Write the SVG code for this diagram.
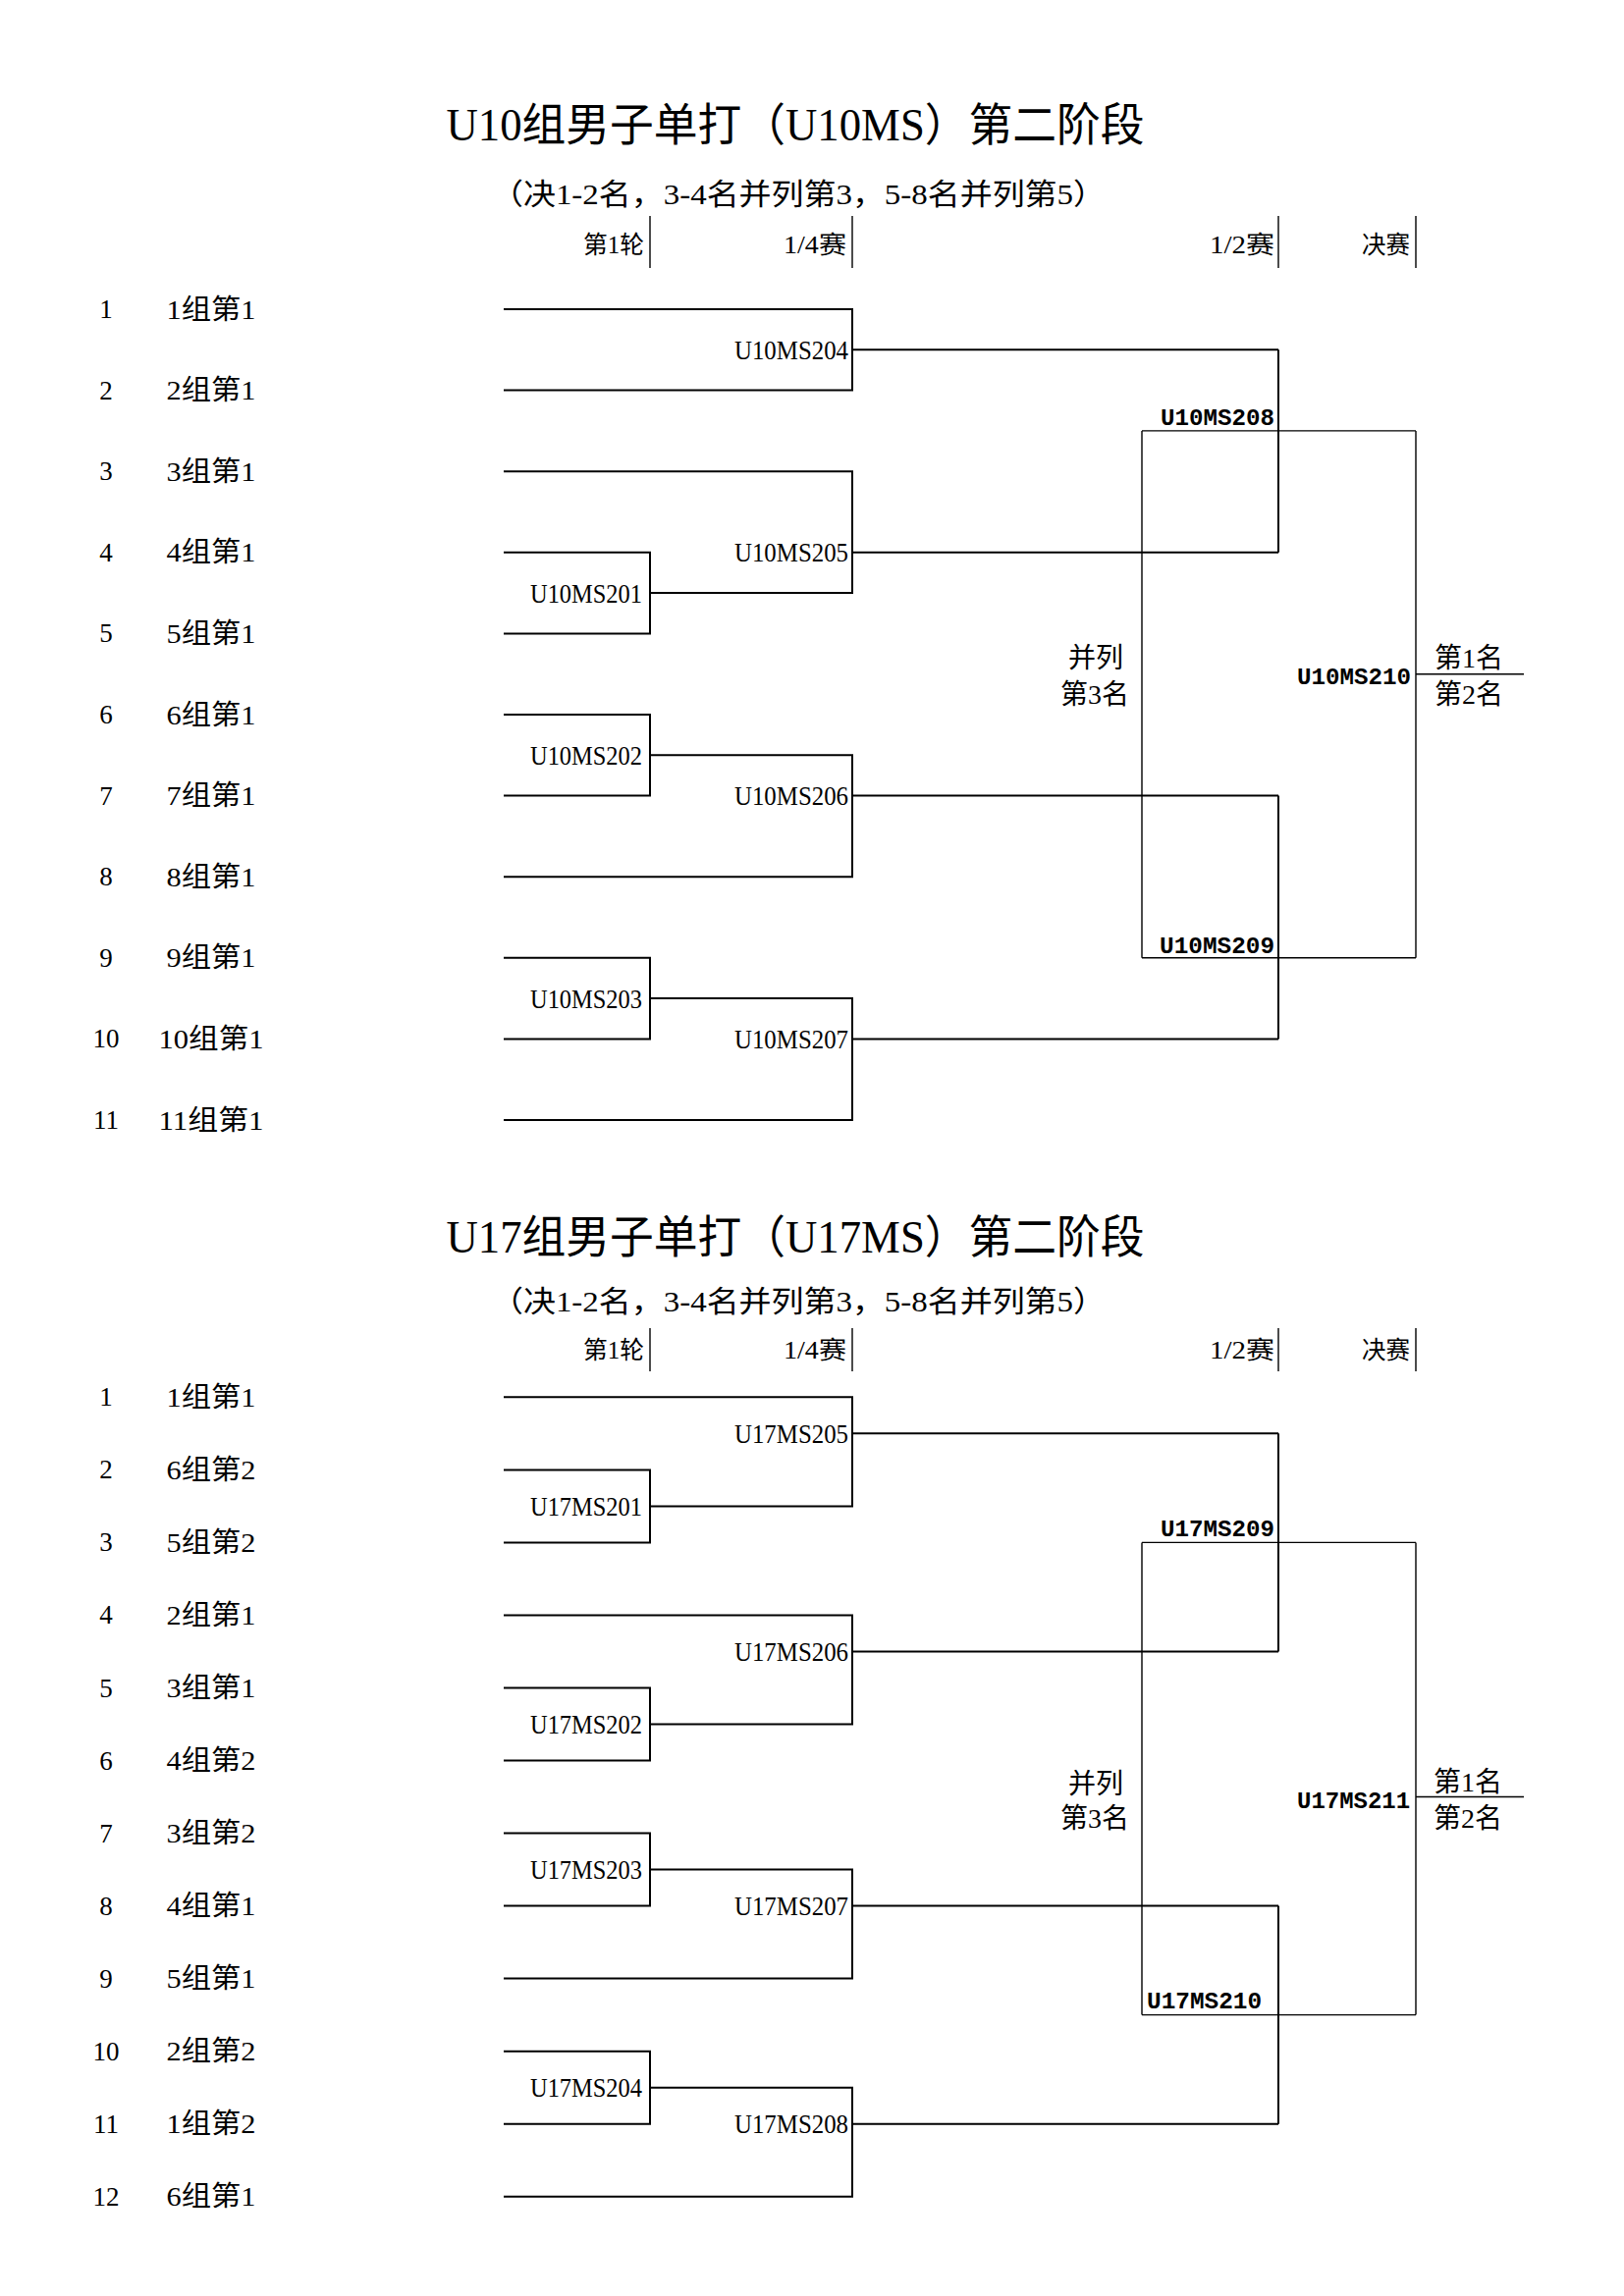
<svg xmlns="http://www.w3.org/2000/svg" width="1654" height="2339" viewBox="0 0 1654 2339">
<style>
.t{font-family:"Liberation Serif","Noto Sans CJK SC",serif;fill:#000;dominant-baseline:central}
.m{font-family:"Liberation Mono","Noto Sans CJK SC",monospace;fill:#000;font-size:24px;font-weight:bold}
.title{font-size:46px;text-anchor:middle}
.sub{font-size:30px;text-anchor:middle}
.hd{font-size:25px;text-anchor:end}
.num{font-size:27px;text-anchor:middle}
.lab{font-size:28px;text-anchor:middle}
.ml{font-size:28px;text-anchor:end}
.rk{font-size:28px;text-anchor:middle}
.k{fill:none;stroke:#000;stroke-width:2}
.f{fill:none;stroke:#000;stroke-width:1.4}
</style>
<rect width="1654" height="2339" fill="#fff"/>

<!-- ================= Section 1: U10MS ================= -->
<g id="s1-title">
<text class="t title" x="810" y="127" textLength="711" lengthAdjust="spacingAndGlyphs">U10组男子单打（U10MS）第二阶段</text>
<text class="t sub" x="813" y="197" textLength="626" lengthAdjust="spacingAndGlyphs">（决1-2名，3-4名并列第3，5-8名并列第5）</text>
</g>
<g id="s1-headers">
<text class="t hd" x="656" y="249" textLength="62" lengthAdjust="spacingAndGlyphs">第1轮</text>
<text class="t hd" x="862" y="249" textLength="64" lengthAdjust="spacingAndGlyphs">1/4赛</text>
<text class="t hd" x="1298" y="249" textLength="66" lengthAdjust="spacingAndGlyphs">1/2赛</text>
<text class="t hd" x="1436" y="249" textLength="49" lengthAdjust="spacingAndGlyphs">决赛</text>
<path class="f" d="M662,220V273M868,220V273M1302,220V273M1442,220V273"/>
</g>

<g id="s1-entries">
<g id="s1-e1"><text class="t num" x="108" y="315">1</text><text class="t lab" x="215" y="315" textLength="91" lengthAdjust="spacingAndGlyphs">1组第1</text></g>
<g id="s1-e2"><text class="t num" x="108" y="397.6">2</text><text class="t lab" x="215" y="397.6" textLength="91" lengthAdjust="spacingAndGlyphs">2组第1</text></g>
<g id="s1-e3"><text class="t num" x="108" y="480.2">3</text><text class="t lab" x="215" y="480.2" textLength="91" lengthAdjust="spacingAndGlyphs">3组第1</text></g>
<g id="s1-e4"><text class="t num" x="108" y="562.8">4</text><text class="t lab" x="215" y="562.8" textLength="91" lengthAdjust="spacingAndGlyphs">4组第1</text></g>
<g id="s1-e5"><text class="t num" x="108" y="645.4">5</text><text class="t lab" x="215" y="645.4" textLength="91" lengthAdjust="spacingAndGlyphs">5组第1</text></g>
<g id="s1-e6"><text class="t num" x="108" y="728">6</text><text class="t lab" x="215" y="728" textLength="91" lengthAdjust="spacingAndGlyphs">6组第1</text></g>
<g id="s1-e7"><text class="t num" x="108" y="810.6">7</text><text class="t lab" x="215" y="810.6" textLength="91" lengthAdjust="spacingAndGlyphs">7组第1</text></g>
<g id="s1-e8"><text class="t num" x="108" y="893.2">8</text><text class="t lab" x="215" y="893.2" textLength="91" lengthAdjust="spacingAndGlyphs">8组第1</text></g>
<g id="s1-e9"><text class="t num" x="108" y="975.8">9</text><text class="t lab" x="215" y="975.8" textLength="91" lengthAdjust="spacingAndGlyphs">9组第1</text></g>
<g id="s1-e10"><text class="t num" x="108" y="1058.4">10</text><text class="t lab" x="215" y="1058.4" textLength="107" lengthAdjust="spacingAndGlyphs">10组第1</text></g>
<g id="s1-e11"><text class="t num" x="108" y="1141">11</text><text class="t lab" x="215" y="1141" textLength="107" lengthAdjust="spacingAndGlyphs">11组第1</text></g>
</g>

<g id="s1-matches">
<g id="U10MS201"><text class="t ml" x="654" y="604.1" textLength="114" lengthAdjust="spacingAndGlyphs">U10MS201</text></g>
<g id="U10MS202"><text class="t ml" x="654" y="769.3" textLength="114" lengthAdjust="spacingAndGlyphs">U10MS202</text></g>
<g id="U10MS203"><text class="t ml" x="654" y="1017.1" textLength="114" lengthAdjust="spacingAndGlyphs">U10MS203</text></g>
<g id="U10MS204"><text class="t ml" x="864" y="356.3" textLength="116" lengthAdjust="spacingAndGlyphs">U10MS204</text></g>
<g id="U10MS205"><text class="t ml" x="864" y="562.8" textLength="116" lengthAdjust="spacingAndGlyphs">U10MS205</text></g>
<g id="U10MS206"><text class="t ml" x="864" y="810.6" textLength="116" lengthAdjust="spacingAndGlyphs">U10MS206</text></g>
<g id="U10MS207"><text class="t ml" x="864" y="1058.4" textLength="116" lengthAdjust="spacingAndGlyphs">U10MS207</text></g>
<g id="U10MS208"><text class="m" x="1182" y="433" textLength="116" lengthAdjust="spacingAndGlyphs">U10MS208</text></g>
<g id="U10MS209"><text class="m" x="1181" y="971" textLength="117" lengthAdjust="spacingAndGlyphs">U10MS209</text></g>
<g id="U10MS210"><text class="m" x="1321" y="697" textLength="116" lengthAdjust="spacingAndGlyphs">U10MS210</text></g>
<g id="s1-third"><text class="t rk" x="1116" y="670">并列</text><text class="t rk" x="1115" y="707">第3名</text></g>
<g id="s1-final"><text class="t rk" x="1496" y="670">第1名</text><text class="t rk" x="1496" y="707">第2名</text></g>
</g>

<g id="s1-connectors">
<path class="k" d="M513,315H868V397.6H513M868,356.3H1302"/>
<path class="k" d="M513,480.2H868V604.1H662M868,562.8H1302"/>
<path class="k" d="M513,562.8H662V645.4H513"/>
<path class="k" d="M513,728H662V810.6H513M662,769.3H868V893.2H513M868,810.6H1302"/>
<path class="k" d="M513,975.8H662V1058.4H513M662,1017.1H868V1141H513M868,1058.4H1302"/>
<path class="k" d="M1302,356.3V562.8M1302,810.6V1058.4"/>
<path class="f" d="M1163,438.9H1442M1163,975.8H1442M1163,438.9V975.8M1442,438.9V975.8M1442,686.7H1552"/>
</g>

<!-- ================= Section 2: U17MS ================= -->
<g id="s2-title">
<text class="t title" x="810" y="1260" textLength="711" lengthAdjust="spacingAndGlyphs">U17组男子单打（U17MS）第二阶段</text>
<text class="t sub" x="813" y="1325" textLength="626" lengthAdjust="spacingAndGlyphs">（决1-2名，3-4名并列第3，5-8名并列第5）</text>
</g>
<g id="s2-headers">
<text class="t hd" x="656" y="1375" textLength="62" lengthAdjust="spacingAndGlyphs">第1轮</text>
<text class="t hd" x="862" y="1375" textLength="64" lengthAdjust="spacingAndGlyphs">1/4赛</text>
<text class="t hd" x="1298" y="1375" textLength="66" lengthAdjust="spacingAndGlyphs">1/2赛</text>
<text class="t hd" x="1436" y="1375" textLength="49" lengthAdjust="spacingAndGlyphs">决赛</text>
<path class="f" d="M662,1353V1397M868,1353V1397M1302,1353V1397M1442,1353V1397"/>
</g>

<g id="s2-entries">
<g id="s2-e1"><text class="t num" x="108" y="1423.3">1</text><text class="t lab" x="215" y="1423.3" textLength="91" lengthAdjust="spacingAndGlyphs">1组第1</text></g>
<g id="s2-e2"><text class="t num" x="108" y="1497.4">2</text><text class="t lab" x="215" y="1497.4" textLength="91" lengthAdjust="spacingAndGlyphs">6组第2</text></g>
<g id="s2-e3"><text class="t num" x="108" y="1571.4">3</text><text class="t lab" x="215" y="1571.4" textLength="91" lengthAdjust="spacingAndGlyphs">5组第2</text></g>
<g id="s2-e4"><text class="t num" x="108" y="1645.4">4</text><text class="t lab" x="215" y="1645.4" textLength="91" lengthAdjust="spacingAndGlyphs">2组第1</text></g>
<g id="s2-e5"><text class="t num" x="108" y="1719.5">5</text><text class="t lab" x="215" y="1719.5" textLength="91" lengthAdjust="spacingAndGlyphs">3组第1</text></g>
<g id="s2-e6"><text class="t num" x="108" y="1793.5">6</text><text class="t lab" x="215" y="1793.5" textLength="91" lengthAdjust="spacingAndGlyphs">4组第2</text></g>
<g id="s2-e7"><text class="t num" x="108" y="1867.6">7</text><text class="t lab" x="215" y="1867.6" textLength="91" lengthAdjust="spacingAndGlyphs">3组第2</text></g>
<g id="s2-e8"><text class="t num" x="108" y="1941.6">8</text><text class="t lab" x="215" y="1941.6" textLength="91" lengthAdjust="spacingAndGlyphs">4组第1</text></g>
<g id="s2-e9"><text class="t num" x="108" y="2015.6">9</text><text class="t lab" x="215" y="2015.6" textLength="91" lengthAdjust="spacingAndGlyphs">5组第1</text></g>
<g id="s2-e10"><text class="t num" x="108" y="2089.7">10</text><text class="t lab" x="215" y="2089.7" textLength="91" lengthAdjust="spacingAndGlyphs">2组第2</text></g>
<g id="s2-e11"><text class="t num" x="108" y="2163.7">11</text><text class="t lab" x="215" y="2163.7" textLength="91" lengthAdjust="spacingAndGlyphs">1组第2</text></g>
<g id="s2-e12"><text class="t num" x="108" y="2237.8">12</text><text class="t lab" x="215" y="2237.8" textLength="91" lengthAdjust="spacingAndGlyphs">6组第1</text></g>
</g>

<g id="s2-matches">
<g id="U17MS201"><text class="t ml" x="654" y="1534.4" textLength="114" lengthAdjust="spacingAndGlyphs">U17MS201</text></g>
<g id="U17MS202"><text class="t ml" x="654" y="1756.5" textLength="114" lengthAdjust="spacingAndGlyphs">U17MS202</text></g>
<g id="U17MS203"><text class="t ml" x="654" y="1904.6" textLength="114" lengthAdjust="spacingAndGlyphs">U17MS203</text></g>
<g id="U17MS204"><text class="t ml" x="654" y="2126.7" textLength="114" lengthAdjust="spacingAndGlyphs">U17MS204</text></g>
<g id="U17MS205"><text class="t ml" x="864" y="1460.3" textLength="116" lengthAdjust="spacingAndGlyphs">U17MS205</text></g>
<g id="U17MS206"><text class="t ml" x="864" y="1682.5" textLength="116" lengthAdjust="spacingAndGlyphs">U17MS206</text></g>
<g id="U17MS207"><text class="t ml" x="864" y="1941.6" textLength="116" lengthAdjust="spacingAndGlyphs">U17MS207</text></g>
<g id="U17MS208"><text class="t ml" x="864" y="2163.7" textLength="116" lengthAdjust="spacingAndGlyphs">U17MS208</text></g>
<g id="U17MS209"><text class="m" x="1182" y="1565" textLength="116" lengthAdjust="spacingAndGlyphs">U17MS209</text></g>
<g id="U17MS210"><text class="m" x="1168" y="2046" textLength="117" lengthAdjust="spacingAndGlyphs">U17MS210</text></g>
<g id="U17MS211"><text class="m" x="1321" y="1842" textLength="115" lengthAdjust="spacingAndGlyphs">U17MS211</text></g>
<g id="s2-third"><text class="t rk" x="1116" y="1817">并列</text><text class="t rk" x="1115" y="1852">第3名</text></g>
<g id="s2-final"><text class="t rk" x="1495" y="1815">第1名</text><text class="t rk" x="1495" y="1852">第2名</text></g>
</g>

<g id="s2-connectors">
<path class="k" d="M513,1423.3H868V1534.4H662M868,1460.3H1302"/>
<path class="k" d="M513,1497.4H662V1571.4H513"/>
<path class="k" d="M513,1645.4H868V1756.5H662M868,1682.5H1302"/>
<path class="k" d="M513,1719.5H662V1793.5H513"/>
<path class="k" d="M513,1867.6H662V1941.6H513M662,1904.6H868V2015.6H513M868,1941.6H1302"/>
<path class="k" d="M513,2089.7H662V2163.7H513M662,2126.7H868V2237.8H513M868,2163.7H1302"/>
<path class="k" d="M1302,1460.3V1682.5M1302,1941.6V2163.7"/>
<path class="f" d="M1163,1571.4H1442M1163,2052.6H1442M1163,1571.4V2052.6M1442,1571.4V2052.6M1442,1830.5H1552"/>
</g>
</svg>
